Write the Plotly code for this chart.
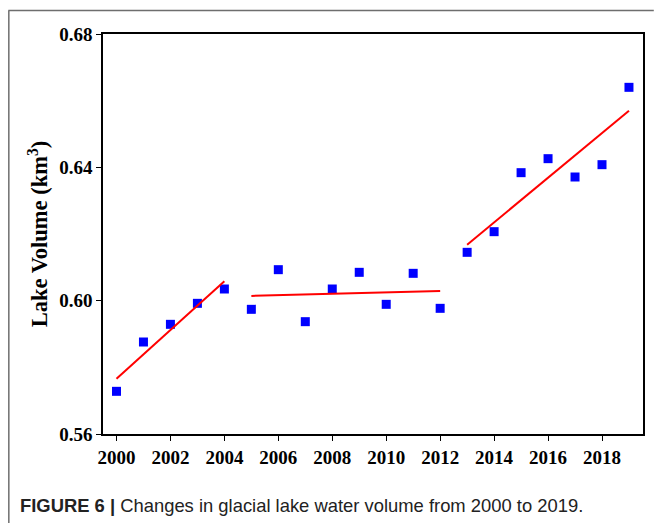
import numpy as np
import plotly.graph_objects as go

# Annual glacial lake water volume (km^3)
years = list(range(2000, 2020))
volume = [0.5728, 0.5876, 0.5929, 0.5992, 0.6035,
          0.5974, 0.6093, 0.5937, 0.6035, 0.6085,
          0.5989, 0.6082, 0.5977, 0.6145, 0.6207,
          0.6384, 0.6426, 0.6371, 0.6408, 0.6640]

# Periods fitted with separate linear trends
periods = [(2000, 2004), (2005, 2012), (2013, 2019)]

x_ticks = list(range(2000, 2019, 2))
y_ticks = [0.56, 0.60, 0.64, 0.68]
y_tick_text = ["0.56", "0.60", "0.64", "0.68"]

caption_bold = "FIGURE 6 |"
caption_text = " Changes in glacial lake water volume from 2000 to 2019."

yr = np.array(years, dtype=float)
vol = np.array(volume)

fig = go.Figure()

fig.add_trace(go.Scatter(
    x=years, y=volume, mode="markers",
    marker=dict(symbol="square", size=9, color="#0000FF", line=dict(width=0)),
    showlegend=False,
))

for start, end in periods:
    sel = (yr >= start) & (yr <= end)
    slope, intercept = np.polyfit(yr[sel], vol[sel], 1)
    xs = [start, end]
    fig.add_trace(go.Scatter(
        x=xs, y=[slope * v + intercept for v in xs], mode="lines",
        line=dict(color="#FF0000", width=2), showlegend=False,
    ))

tick_font = dict(family="Liberation Serif", size=19, color="black")

fig.update_layout(
    width=655, height=523,
    margin=dict(l=103, r=10, t=34, b=89),
    paper_bgcolor="white", plot_bgcolor="white",
    xaxis=dict(
        range=[1999.5, 2019.52], tickvals=x_ticks,
        ticktext=[f"<b>{t}</b>" for t in x_ticks],
        showgrid=False, zeroline=False,
        showline=True, linecolor="black", linewidth=1.6, mirror=True,
        ticks="outside", ticklen=5, tickwidth=1.3, tickcolor="black",
        tickfont=tick_font,
    ),
    yaxis=dict(
        range=[0.56, 0.68], tickvals=y_ticks,
        ticktext=[f"<b>{t}</b>" for t in y_tick_text],
        showgrid=False, zeroline=False,
        showline=True, linecolor="black", linewidth=1.6, mirror=True,
        ticks="outside", ticklen=5, tickwidth=1.3, tickcolor="black",
        tickfont=tick_font,
        title=dict(text="<b>Lake Volume (km<sup>3</sup>)</b>",
                   font=dict(family="Liberation Serif", size=22.5, color="black"),
                   standoff=5),
    ),
)

# Figure frame lines (top and left)
frame_color = "#6e6e6e"
fig.add_shape(type="line", xref="paper", yref="paper",
              x0=-0.1753, x1=1.02, y0=1.0588, y1=1.0588,
              line=dict(color=frame_color, width=1.5))
fig.add_shape(type="line", xref="paper", yref="paper",
              x0=-0.1744, x1=-0.1744, y0=1.0588, y1=-0.23,
              line=dict(color=frame_color, width=1.5))

fig.add_annotation(
    xref="paper", yref="paper", x=-0.157, y=-0.1775,
    xanchor="left", yanchor="middle", showarrow=False,
    text=f"<b>{caption_bold}</b>{caption_text}",
    font=dict(family="Liberation Sans", size=18.4, color="#222222"),
)

fig.write_html("out.html")
